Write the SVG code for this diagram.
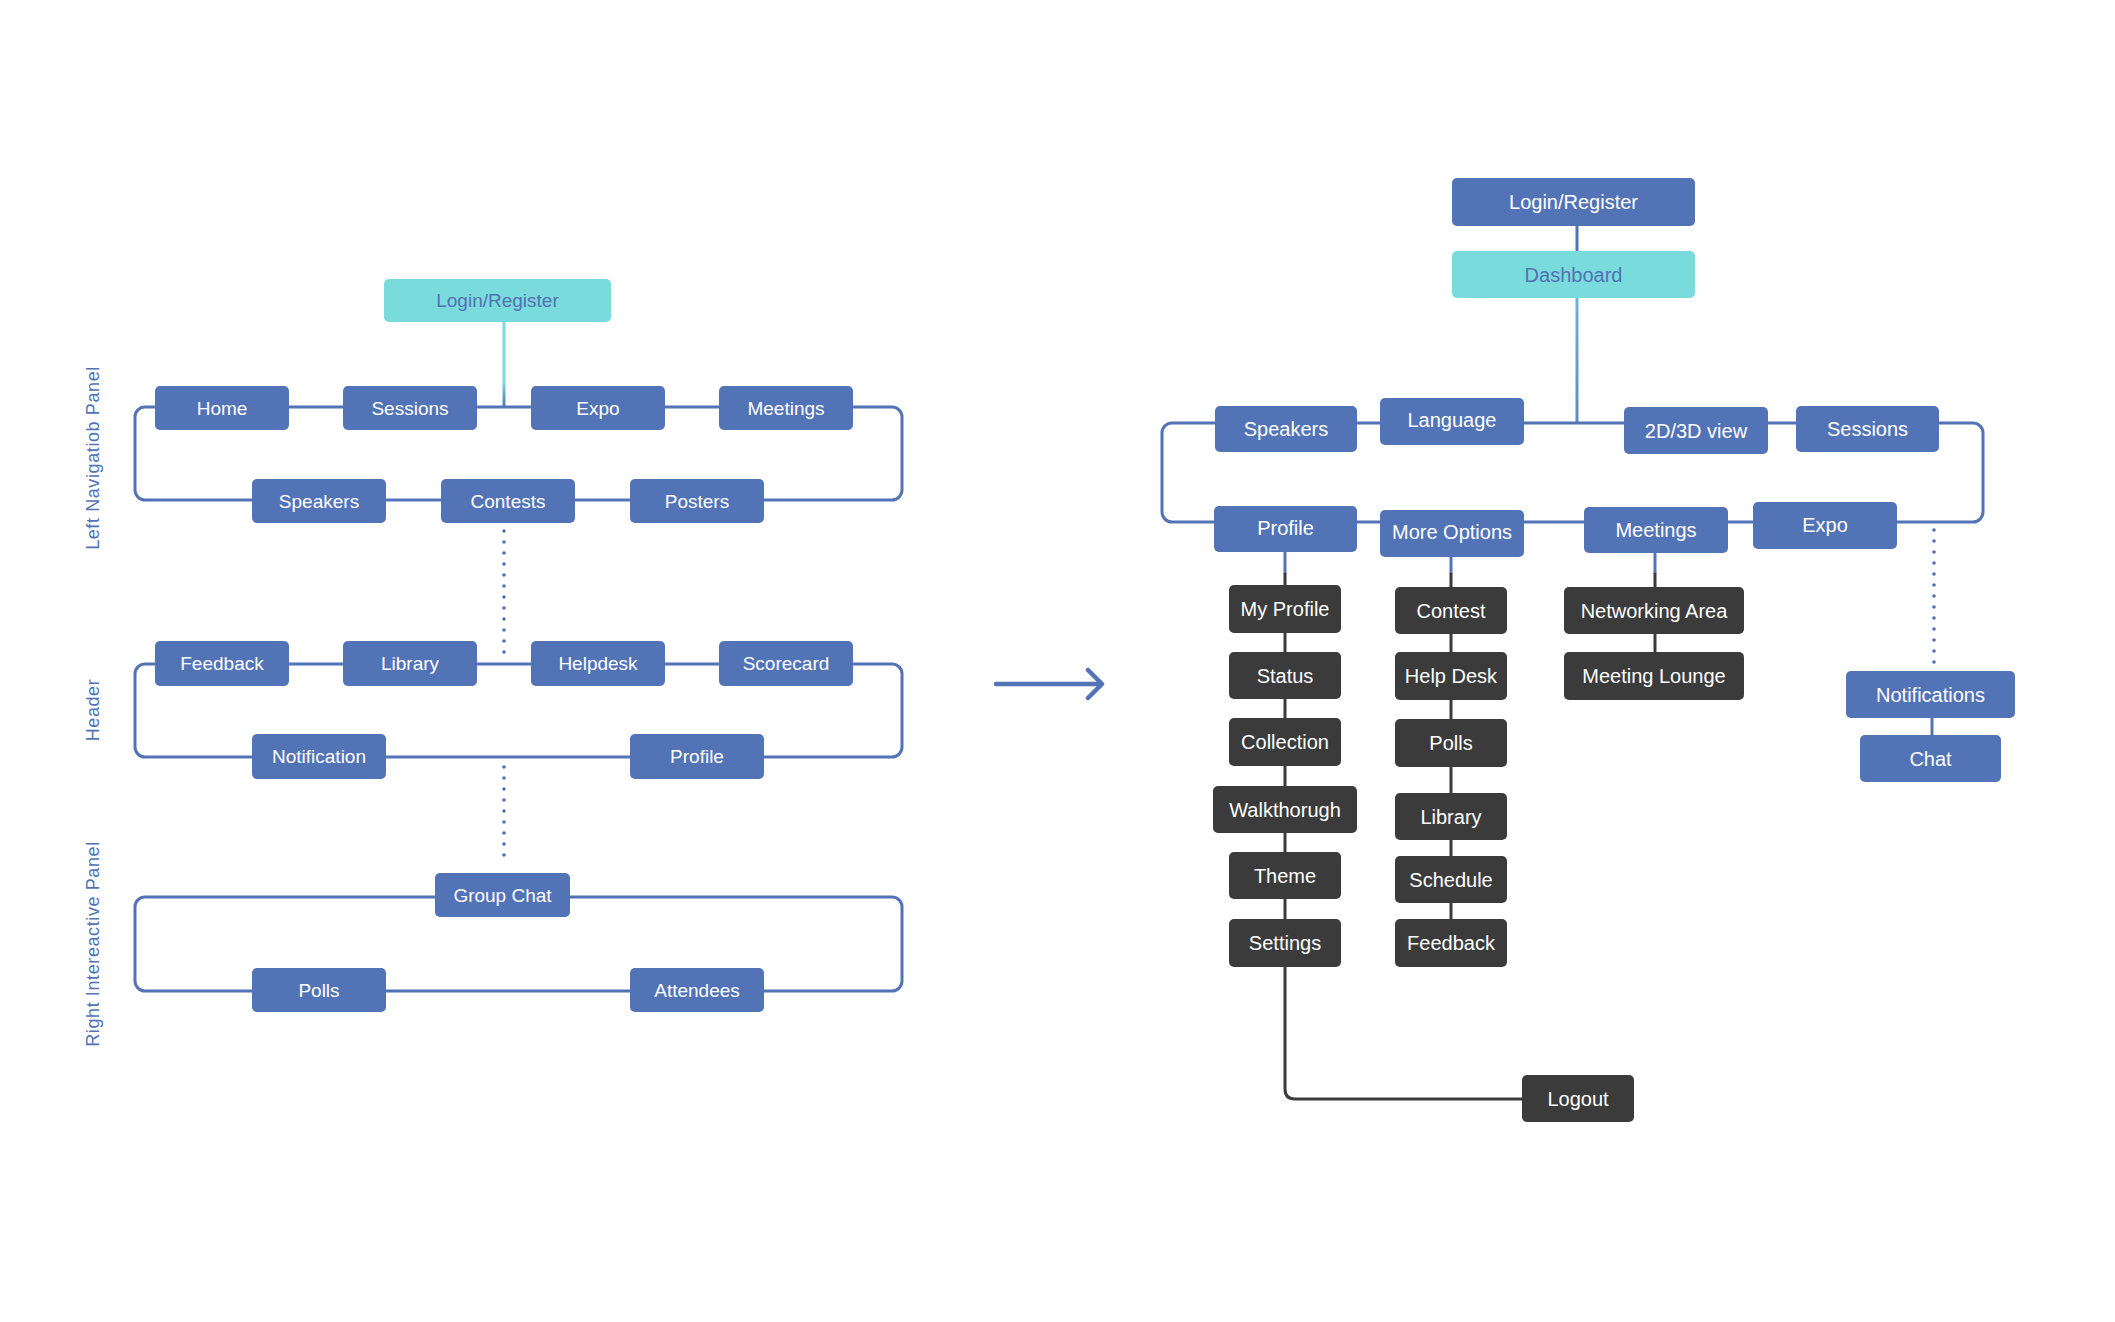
<svg xmlns="http://www.w3.org/2000/svg" width="2115" height="1322" viewBox="0 0 2115 1322">
<style>
.n rect{fill:#5273B5;}
.t rect{fill:#79DBDC;}
.d rect{fill:#3B3B3B;}
text{font-family:"Liberation Sans",Arial,sans-serif;text-anchor:middle;dominant-baseline:central;}
.n text,.d text{fill:#FFFFFF;}
.t text{fill:#5470B5;}
.L text{font-size:19px;}
.R text{font-size:20px;}
.lbl{fill:#5273B5;font-size:18px;letter-spacing:0.6px;}
.loop{fill:none;stroke:#5273B5;stroke-width:3;}
.bl{stroke:#5273B5;stroke-width:3;fill:none;}
.dk{stroke:#3B3B3B;stroke-width:3;fill:none;}
.dot{stroke:#4F6FB3;stroke-width:3.6;stroke-linecap:round;stroke-dasharray:0 11;fill:none;}
</style>
<defs>
<linearGradient id="tg" x1="0" y1="0" x2="0" y2="1">
<stop offset="0" stop-color="#79DBDC"/>
<stop offset="0.7" stop-color="#79DBDC"/>
<stop offset="1" stop-color="#5273B5"/>
</linearGradient>
<linearGradient id="tg2" x1="0" y1="0" x2="0" y2="1">
<stop offset="0" stop-color="#6FB4D2"/>
<stop offset="1" stop-color="#5C8CC4"/>
</linearGradient>
</defs>
<rect x="0" y="0" width="2115" height="1322" fill="#FFFFFF"/>

<g id="connectors">
<rect x="502.5" y="322" width="3" height="86" fill="url(#tg)"/>
<rect class="loop" x="135" y="407" width="767" height="93" rx="10"/>
<rect class="loop" x="135" y="664" width="767" height="93" rx="10"/>
<rect class="loop" x="135" y="897" width="767" height="94" rx="10"/>
<line class="dot" x1="504" y1="531" x2="504" y2="656"/>
<line class="dot" x1="504" y1="767" x2="504" y2="866"/>
<path d="M996 684 H1100 M1088 670 L1102 684 L1088 698" stroke="#5273B5" stroke-width="4.5" stroke-linecap="round" stroke-linejoin="round" fill="none"/>
<line class="bl" x1="1577" y1="226" x2="1577" y2="251"/>
<rect x="1575.5" y="298" width="3" height="125" fill="url(#tg2)"/>
<rect class="loop" x="1162" y="423" width="821" height="99" rx="10"/>
<line class="bl" x1="1285" y1="552" x2="1285" y2="574"/>
<line class="bl" x1="1451" y1="557" x2="1451" y2="574"/>
<line class="bl" x1="1655" y1="553" x2="1655" y2="574"/>
<path class="dk" d="M1285 573 V1089 Q1285 1099 1295 1099 H1522"/>
<line class="dk" x1="1451" y1="573" x2="1451" y2="919"/>
<line class="dk" x1="1655" y1="573" x2="1655" y2="652"/>
<line class="dot" x1="1934" y1="530" x2="1934" y2="664"/>
<line class="bl" x1="1932" y1="718" x2="1932" y2="735"/>
</g>

<g id="panel-labels">
<text class="lbl" transform="translate(93,458) rotate(-90)">Left Navigatiob Panel</text>
<text class="lbl" transform="translate(93,710) rotate(-90)">Header</text>
<text class="lbl" transform="translate(93,944) rotate(-90)">Right Intereactive Panel</text>
</g>

<g class="L">
<g id="l-login" class="t"><rect x="384" y="279" width="227" height="43" rx="5"/><text x="497.5" y="300.5">Login/Register</text></g>
<g id="l-home" class="n"><rect x="155" y="386" width="134" height="44" rx="5"/><text x="222" y="408">Home</text></g>
<g id="l-sessions" class="n"><rect x="343" y="386" width="134" height="44" rx="5"/><text x="410" y="408">Sessions</text></g>
<g id="l-expo" class="n"><rect x="531" y="386" width="134" height="44" rx="5"/><text x="598" y="408">Expo</text></g>
<g id="l-meetings" class="n"><rect x="719" y="386" width="134" height="44" rx="5"/><text x="786" y="408">Meetings</text></g>
<g id="l-speakers" class="n"><rect x="252" y="479" width="134" height="44" rx="5"/><text x="319" y="501">Speakers</text></g>
<g id="l-contests" class="n"><rect x="441" y="479" width="134" height="44" rx="5"/><text x="508" y="501">Contests</text></g>
<g id="l-posters" class="n"><rect x="630" y="479" width="134" height="44" rx="5"/><text x="697" y="501">Posters</text></g>
<g id="l-feedback" class="n"><rect x="155" y="641" width="134" height="45" rx="5"/><text x="222" y="663.5">Feedback</text></g>
<g id="l-library" class="n"><rect x="343" y="641" width="134" height="45" rx="5"/><text x="410" y="663.5">Library</text></g>
<g id="l-helpdesk" class="n"><rect x="531" y="641" width="134" height="45" rx="5"/><text x="598" y="663.5">Helpdesk</text></g>
<g id="l-scorecard" class="n"><rect x="719" y="641" width="134" height="45" rx="5"/><text x="786" y="663.5">Scorecard</text></g>
<g id="l-notification" class="n"><rect x="252" y="734" width="134" height="45" rx="5"/><text x="319" y="756.5">Notification</text></g>
<g id="l-profile" class="n"><rect x="630" y="734" width="134" height="45" rx="5"/><text x="697" y="756.5">Profile</text></g>
<g id="l-groupchat" class="n"><rect x="435" y="873" width="135" height="44" rx="5"/><text x="502.5" y="895">Group Chat</text></g>
<g id="l-polls" class="n"><rect x="252" y="968" width="134" height="44" rx="5"/><text x="319" y="990">Polls</text></g>
<g id="l-attendees" class="n"><rect x="630" y="968" width="134" height="44" rx="5"/><text x="697" y="990">Attendees</text></g>
</g>

<g class="R">
<g id="r-login" class="n"><rect x="1452" y="178" width="243" height="48" rx="5"/><text x="1573.5" y="202">Login/Register</text></g>
<g id="r-dashboard" class="t"><rect x="1452" y="251" width="243" height="47" rx="5"/><text x="1573.5" y="274.5">Dashboard</text></g>
<g id="r-speakers" class="n"><rect x="1215" y="406" width="142" height="46" rx="5"/><text x="1286" y="429">Speakers</text></g>
<g id="r-language" class="n"><rect x="1380" y="398" width="144" height="47" rx="5"/><text x="1452" y="420">Language</text></g>
<g id="r-2d3d" class="n"><rect x="1624" y="407" width="144" height="47" rx="5"/><text x="1696" y="431">2D/3D view</text></g>
<g id="r-sessions" class="n"><rect x="1796" y="406" width="143" height="46" rx="5"/><text x="1867.5" y="429">Sessions</text></g>
<g id="r-profile" class="n"><rect x="1214" y="506" width="143" height="46" rx="5"/><text x="1285.5" y="528">Profile</text></g>
<g id="r-moreoptions" class="n"><rect x="1380" y="510" width="144" height="47" rx="5"/><text x="1452" y="532">More Options</text></g>
<g id="r-meetings" class="n"><rect x="1584" y="507" width="144" height="46" rx="5"/><text x="1656" y="530">Meetings</text></g>
<g id="r-expo" class="n"><rect x="1753" y="502" width="144" height="47" rx="5"/><text x="1825" y="525">Expo</text></g>
<g id="r-myprofile" class="d"><rect x="1229" y="585" width="112" height="48" rx="5"/><text x="1285" y="609">My Profile</text></g>
<g id="r-status" class="d"><rect x="1229" y="652" width="112" height="47" rx="5"/><text x="1285" y="675.5">Status</text></g>
<g id="r-collection" class="d"><rect x="1229" y="718" width="112" height="48" rx="5"/><text x="1285" y="742">Collection</text></g>
<g id="r-walkthorugh" class="d"><rect x="1213" y="786" width="144" height="47" rx="5"/><text x="1285" y="809.5">Walkthorugh</text></g>
<g id="r-theme" class="d"><rect x="1229" y="852" width="112" height="47" rx="5"/><text x="1285" y="875.5">Theme</text></g>
<g id="r-settings" class="d"><rect x="1229" y="919" width="112" height="48" rx="5"/><text x="1285" y="943">Settings</text></g>
<g id="r-contest" class="d"><rect x="1395" y="587" width="112" height="47" rx="5"/><text x="1451" y="610.5">Contest</text></g>
<g id="r-helpdesk" class="d"><rect x="1395" y="652" width="112" height="48" rx="5"/><text x="1451" y="676">Help Desk</text></g>
<g id="r-polls" class="d"><rect x="1395" y="719" width="112" height="48" rx="5"/><text x="1451" y="743">Polls</text></g>
<g id="r-library" class="d"><rect x="1395" y="793" width="112" height="47" rx="5"/><text x="1451" y="816.5">Library</text></g>
<g id="r-schedule" class="d"><rect x="1395" y="856" width="112" height="47" rx="5"/><text x="1451" y="879.5">Schedule</text></g>
<g id="r-feedback" class="d"><rect x="1395" y="919" width="112" height="48" rx="5"/><text x="1451" y="943">Feedback</text></g>
<g id="r-networking" class="d"><rect x="1564" y="587" width="180" height="47" rx="5"/><text x="1654" y="610.5">Networking Area</text></g>
<g id="r-lounge" class="d"><rect x="1564" y="652" width="180" height="48" rx="5"/><text x="1654" y="676">Meeting Lounge</text></g>
<g id="r-notifications" class="n"><rect x="1846" y="671" width="169" height="47" rx="5"/><text x="1930.5" y="694.5">Notifications</text></g>
<g id="r-chat" class="n"><rect x="1860" y="735" width="141" height="47" rx="5"/><text x="1930.5" y="758.5">Chat</text></g>
<g id="r-logout" class="d"><rect x="1522" y="1075" width="112" height="47" rx="5"/><text x="1578" y="1098.5">Logout</text></g>
</g>
</svg>
